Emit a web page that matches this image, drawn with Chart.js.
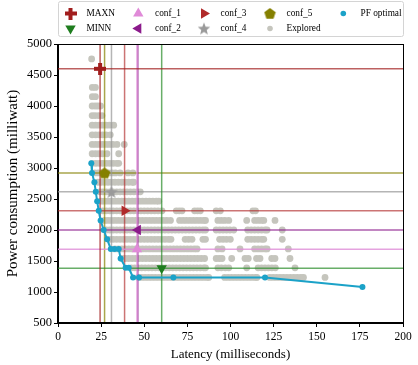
<!DOCTYPE html>
<html><head><meta charset="utf-8">
<script src="https://cdn.jsdelivr.net/npm/chart.js@4/dist/chart.umd.min.js"></script>
<style>html,body{margin:0;padding:0;background:#fff;}#wrap{width:418px;height:365px;}</style>
</head><body><div id="wrap"><canvas id="c" width="418" height="365"></canvas></div>
<script>
// ---------- data ----------
const latencyTicks = [0, 25, 50, 75, 100, 125, 150, 175, 200];
const powerTicks = [500, 1000, 1500, 2000, 2500, 3000, 3500, 4000, 4500, 5000];

const pfLatency = [19.3, 19.7, 21.1, 21.9, 22.7, 23.6, 24.7, 26.5, 28.5, 30.6, 32.8, 35.2, 36.3, 39.2, 41.0, 43.5, 47.0, 66.9, 120.0, 176.5];
const pfPower   = [3075, 2920, 2770, 2615, 2465, 2310, 2155, 2000, 1850, 1695, 1695, 1695, 1540, 1390, 1390, 1235, 1235, 1235, 1235, 1080];

const confNames   = ['MAXN', 'MINN', 'conf_1', 'conf_2', 'conf_3', 'conf_4', 'conf_5'];
const confLatency = [24.4, 60.1, 45.8, 46.3, 38.6, 31.0, 27.0];
const confPower   = [4600, 1385, 1690, 2000, 2310, 2615, 2920];

const rowPower = [1235, 1390, 1540, 1695, 1850, 2000, 2155, 2310, 2465, 2615, 2770, 2920, 3075, 3230, 3380, 3535, 3690, 3845, 4000, 4150, 4300, 4760];
const r1235 = [46.5, 48.5, 50.5, 52.5, 54.5, 56.5, 58.5, 60.5, 62.5, 64.5, 66.5, 68.5, 70.5, 72.5, 74.5, 76.5, 78.5, 80.5, 82.5, 84.5, 86.5, 87.4, 96.6, 98.6, 100.6, 102.6, 104.6, 106.6, 108.6, 110.6, 112.6, 114.6, 115.3, 122.7, 124.7, 126.7, 128.7, 130.7, 132.7, 134.7, 136.7, 138.7, 140.7, 142.3, 154.8];
const r1390 = [42.5, 44.5, 46.5, 48.5, 50.5, 52.5, 54.5, 56.5, 58.5, 60.5, 62.5, 64.5, 66.5, 68.5, 70.5, 72.5, 74.5, 76.5, 78.5, 80.5, 82.5, 84.5, 85.5, 92.7, 94.7, 97.0, 99.0, 109.4, 116.0, 118.0, 120.0, 122.0, 124.0, 126.0, 137.4];
const r1540 = [37, 39, 41, 43, 45, 47, 49, 51, 53, 55, 57, 59, 61, 63, 65, 67, 69, 71, 73, 75, 77, 79, 81, 83, 85, 91.7, 93.5, 95.1, 100.7, 108.4, 110.3, 115.1, 117.1, 123.9, 125.8, 134.5];
const r1695 = [33, 35, 37, 39, 41, 43, 45, 47, 49, 51, 53, 55, 57, 59, 61, 63, 65, 67, 69, 71, 73, 75, 77, 79, 80.6, 92.7, 95.1, 105.5, 114, 116, 118, 120, 121.2, 133.5];
const r1850 = [30, 32, 34, 36, 38, 40, 42, 44, 46, 48, 50, 52, 54, 56, 58, 60, 62, 64, 65.5, 73.7, 75.7, 77.7, 84.0, 85.5, 93.7, 95.7, 97.7, 99.9, 110, 112, 114, 116, 118, 119.3, 130];
const r2000 = [28, 30, 32, 34, 36, 38, 40, 42, 44, 46, 48, 50, 52, 54, 56, 58, 60, 62, 64, 66, 68, 70, 72, 74, 76, 78, 80, 82, 84, 85.5, 91.7, 93.7, 95.7, 97.7, 99.7, 101.9, 110, 112, 114, 116, 118, 120, 121.2, 130];
const r2155 = [27, 29, 31, 33, 35, 37, 39, 41, 43, 45, 47, 49, 51, 53, 55, 57, 59, 61, 63, 65.2, 70.5, 72.5, 74.5, 76.5, 78.5, 80.5, 82.5, 84.5, 85.5, 92.7, 94.7, 96.7, 99.0, 109.4, 114, 116, 118, 119.3, 125.8];
const r2310 = [26, 28, 30, 32, 34, 36, 38, 40, 42, 44, 46, 48, 50, 52, 54, 56, 58, 60.3, 68.6, 70.3, 71.9, 79.2, 80.9, 82.5, 91.7, 94.1, 113.0, 114.5];
const r2465 = [25.1, 27, 29, 31, 33, 35, 37, 39, 41, 43, 45, 47, 49, 51, 53, 55, 57, 58.4];
const r2615 = [24.2, 26, 28, 30, 32, 34, 36, 38, 40, 42, 44, 46, 47.7];
const r2770 = [23.2, 25, 27, 29, 31, 33, 35, 37, 39, 41, 43, 43.9];
const r2920 = [21.3, 23.3, 25.3, 27.3, 29.3, 31.3, 33.3, 36.0, 40.6, 43.4];
const r3075 = [20, 22, 24, 26, 28, 30, 32, 34, 35.2];
const r3230 = [19.8, 21.8, 23.8, 25.8, 28.4, 35.2];
const r3380 = [19.8, 21.8, 23.8, 25.8, 27.8, 29.8, 31.8, 34.2, 38.4];
const r3535 = [19.8, 21.8, 23.8, 25.8, 27.8, 30.3];
const r3690 = [19.8, 21.8, 23.8, 25.8, 27.8, 29.8, 32.3];
const r3845 = [19.8, 21.5, 23.5, 25.5];
const r4000 = [19.8, 21.5, 23.0, 24.6];
const r4150 = [19.9, 21.7];
const r4300 = [19.9, 21.7];
const r4760 = [19.5];
const exploredLatency = [r1235, r1390, r1540, r1695, r1850, r2000, r2155, r2310, r2465, r2615, r2770, r2920, r3075, r3230, r3380, r3535, r3690, r3845, r4000, r4150, r4300, r4760];

// ---------- styles ----------
const FONT = "'Liberation Serif', 'Times New Roman', serif";
const confColor = ['#a11d1d', '#1e7d1e', '#e08ad8', '#8b1a8b', '#b02a2a', '#9a9a9a', '#858000'];
const confLine  = ['rgba(161,29,29,0.7)', 'rgba(40,140,40,0.7)', 'rgba(222,140,215,0.8)', 'rgba(139,26,139,0.7)', 'rgba(176,42,42,0.65)', 'rgba(150,150,150,0.7)', 'rgba(133,128,0,0.7)'];
const PF_COLOR = '#1ba2c8';
const EXP_COLOR = '#c5c5bd';

function makeMarker(size, color, draw) {
  const c = document.createElement('canvas');
  c.width = size; c.height = size;
  const g = c.getContext('2d');
  g.fillStyle = color;
  draw(g, size);
  return c;
}
function plusMarker(color) {
  return makeMarker(12, color, (g, s) => { const t = 4; g.fillRect(0, (s - t) / 2, s, t); g.fillRect((s - t) / 2, 0, t, s); });
}
function starMarker(color) {
  return makeMarker(14, color, (g, s) => {
    const cx = s / 2, cy = s / 2 + 0.6, R = 6.6, r = 2.8;
    g.beginPath();
    for (let i = 0; i < 10; i++) {
      const a = -Math.PI / 2 + i * Math.PI / 5, rr = i % 2 ? r : R;
      g.lineTo(cx + rr * Math.cos(a), cy + rr * Math.sin(a));
    }
    g.closePath(); g.fill();
  });
}
function pentagonMarker(color) {
  return makeMarker(13, color, (g, s) => {
    const cx = s / 2, cy = s / 2 + 0.5, R = 6;
    g.beginPath();
    for (let i = 0; i < 5; i++) {
      const a = -Math.PI / 2 + i * 2 * Math.PI / 5;
      g.lineTo(cx + R * Math.cos(a), cy + R * Math.sin(a));
    }
    g.closePath(); g.fill();
  });
}
const confStyle = [
  { pointStyle: plusMarker(confColor[0]), rotation: 0, radius: 6 },
  { pointStyle: 'triangle', rotation: 180, radius: 6 },
  { pointStyle: 'triangle', rotation: 0, radius: 6 },
  { pointStyle: 'triangle', rotation: 270, radius: 6 },
  { pointStyle: 'triangle', rotation: 90, radius: 6 },
  { pointStyle: starMarker(confColor[5]), rotation: 0, radius: 7 },
  { pointStyle: pentagonMarker(confColor[6]), rotation: 0, radius: 6 }
];

// ---------- datasets ----------
const datasets = [];
confNames.forEach((name, i) => {
  datasets.push({
    label: name, order: 0,
    data: [{ x: confLatency[i], y: confPower[i] }],
    pointStyle: confStyle[i].pointStyle, rotation: confStyle[i].rotation,
    pointRadius: confStyle[i].radius, pointBackgroundColor: confColor[i],
    pointBorderWidth: 0, borderColor: confColor[i], showLine: false
  });
});
datasets.push({
  label: 'PF optimal', order: 1,
  data: pfLatency.map((x, i) => ({ x, y: pfPower[i] })),
  showLine: true, borderColor: PF_COLOR, borderWidth: 2,
  pointRadius: 3, pointBackgroundColor: PF_COLOR, pointBorderWidth: 0, tension: 0
});
confNames.forEach((name, i) => {
  datasets.push({
    label: name + ' v', order: 2,
    data: [{ x: confLatency[i], y: powerTicks[0] }, { x: confLatency[i], y: powerTicks[powerTicks.length - 1] }],
    showLine: true, borderColor: confLine[i], borderWidth: 1.5, pointRadius: 0
  });
  datasets.push({
    label: name + ' h', order: 2,
    data: [{ x: latencyTicks[0], y: confPower[i] }, { x: latencyTicks[latencyTicks.length - 1], y: confPower[i] }],
    showLine: true, borderColor: confLine[i], borderWidth: 1.5, pointRadius: 0
  });
});
datasets.push({
  label: 'Explored', order: 3,
  data: rowPower.flatMap((p, i) => exploredLatency[i].map(x => ({ x, y: p }))),
  pointRadius: 3.4, pointBackgroundColor: EXP_COLOR, pointBorderWidth: 0, showLine: false
});

// ---------- legend (drawn inside chart canvas) ----------
const legendItems = [
  { label: 'MAXN', col: 0, row: 0, conf: 0 },
  { label: 'MINN', col: 0, row: 1, conf: 1 },
  { label: 'conf_1', col: 1, row: 0, conf: 2 },
  { label: 'conf_2', col: 1, row: 1, conf: 3 },
  { label: 'conf_3', col: 2, row: 0, conf: 4 },
  { label: 'conf_4', col: 2, row: 1, conf: 5 },
  { label: 'conf_5', col: 3, row: 0, conf: 6 },
  { label: 'Explored', col: 3, row: 1, dot: EXP_COLOR },
  { label: 'PF optimal', col: 4, row: 0, dot: PF_COLOR }
];
const legendMarkerX = [70.5, 138.3, 204, 270, 343.3];
const legendTextX = [86.5, 155, 220.5, 286.5, 360.5];
const legendRowY = [13.5, 28.5];

const legendPlugin = {
  id: 'refLegend',
  afterDraw(chart) {
    const ctx = chart.ctx;
    ctx.save();
    ctx.fillStyle = '#ffffff';
    ctx.strokeStyle = '#d4d4d4';
    ctx.lineWidth = 1;
    ctx.beginPath();
    ctx.roundRect(58.5, 1.5, 345, 35, 2);
    ctx.fill(); ctx.stroke();
    ctx.font = '9.3px ' + FONT;
    ctx.textBaseline = 'middle';
    ctx.textAlign = 'left';
    legendItems.forEach(it => {
      const mx = legendMarkerX[it.col], my = legendRowY[it.row];
      if (it.dot) {
        ctx.fillStyle = it.dot;
        Chart.helpers.drawPoint(ctx, { pointStyle: 'circle', radius: 2.8, borderWidth: 0, rotation: 0 }, mx, my);
      } else {
        const s = confStyle[it.conf];
        ctx.fillStyle = confColor[it.conf];
        ctx.strokeStyle = confColor[it.conf];
        Chart.helpers.drawPoint(ctx, { pointStyle: s.pointStyle, radius: s.radius, borderWidth: 0, rotation: s.rotation }, mx, my);
      }
      ctx.fillStyle = '#000';
      ctx.fillText(it.label, legendTextX[it.col], my + 0.5);
    });
    ctx.restore();
  }
};
const framePlugin = {
  id: 'frame',
  afterDatasetsDraw(chart) {
    const a = chart.chartArea, ctx = chart.ctx;
    ctx.save();
    ctx.strokeStyle = '#000'; ctx.lineWidth = 1;
    ctx.strokeRect(Math.round(a.left) - 0.5, Math.round(a.top) + 0.5, Math.round(a.right - a.left) + 1, Math.round(a.bottom - a.top) - 1);
    ctx.restore();
  }
};

new Chart(document.getElementById('c'), {
  type: 'scatter',
  data: { datasets },
  options: {
    responsive: false, animation: false, devicePixelRatio: 1,
    layout: { padding: { top: 44, right: 15, bottom: 0, left: 0 } },
    plugins: { legend: { display: false }, tooltip: { enabled: false } },
    scales: {
      x: {
        type: 'linear', min: latencyTicks[0], max: latencyTicks[latencyTicks.length - 1],
        afterBuildTicks: s => { s.ticks = latencyTicks.map(v => ({ value: v })); },
        afterFit: s => { s.height = 42; },
        grid: { drawOnChartArea: false, drawTicks: true, tickLength: 4, color: '#000', tickColor: '#000' },
        border: { display: true, color: '#000', width: 1 },
        ticks: { color: '#000', font: { family: FONT, size: 11.5 }, padding: 3, maxRotation: 0, callback: v => String(v) },
        title: { display: true, text: 'Latency (milliseconds)', color: '#000', font: { family: FONT, size: 13 }, padding: { top: 0, bottom: 3 } }
      },
      y: {
        type: 'linear', min: powerTicks[0], max: powerTicks[powerTicks.length - 1],
        afterBuildTicks: s => { s.ticks = powerTicks.map(v => ({ value: v })); },
        afterFit: s => { s.width = 58; },
        grid: { drawOnChartArea: false, drawTicks: true, tickLength: 4, color: '#000', tickColor: '#000' },
        border: { display: true, color: '#000', width: 1 },
        ticks: { color: '#000', font: { family: FONT, size: 12.5 }, padding: 2, callback: v => String(v) },
        title: { display: true, text: 'Power consumption (milliwatt)', color: '#000', font: { family: FONT, size: 15 }, padding: { top: 4, bottom: 0 } }
      }
    }
  },
  plugins: [legendPlugin, framePlugin]
});
</script>
</body></html>
